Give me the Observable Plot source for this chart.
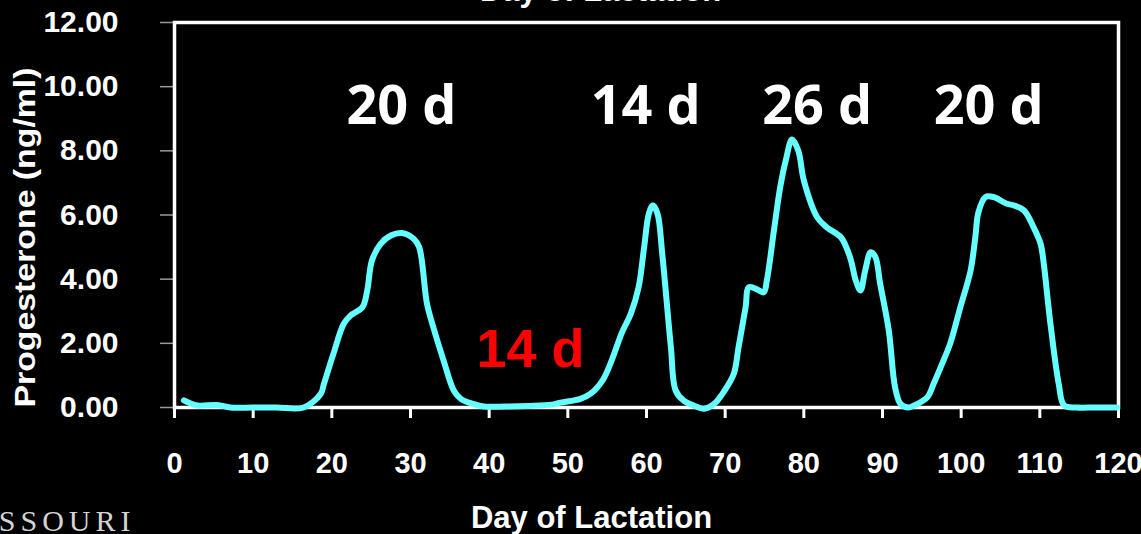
<!DOCTYPE html>
<html>
<head>
<meta charset="utf-8">
<script src="https://cdn.jsdelivr.net/npm/d3@7"></script>
<script src="https://cdn.jsdelivr.net/npm/@observablehq/plot@0.6"></script>
<style>
  html, body { margin: 0; padding: 0; background: #000; }
  #chart svg { display: block; background: #000; }
</style>
</head>
<body>
<div id="chart"></div>
<script>
// ---- data ----
const days = [1.2, 2.9, 5.4, 7.1, 10, 13, 16.4, 18.6, 19.0, 20.2, 21.5, 22.4, 23.9, 24.5, 25.1, 26.2, 27.5, 28.9, 30.4, 31.1,
  32.1, 32.9, 34.2, 35.5, 36.4, 38.0, 39.3, 42, 45, 48, 49.1, 51.6, 52.9, 54.4, 55.4, 56.9, 58.0, 59.0, 59.7, 60.3,
  60.8, 61.4, 62.0, 63.1, 63.7, 64.7, 66.0, 67.3, 68.6, 69.8, 71.1, 71.7, 72.6, 73.0, 73.9, 74.9, 75.3, 76.2, 77.0, 77.7,
  78.5, 79.3, 80.0, 81.7, 82.9, 84.7, 85.3, 86.0, 86.6, 87.2, 87.8, 88.5, 89.1, 89.7, 90.8, 91.6, 92.3, 93.3, 94.0, 95.7,
  96.5, 97.4, 98.6, 99.9, 101.2, 101.8, 102.2, 103.1, 104.1, 105.8, 106.7, 108.0, 109.2, 110.1, 110.5, 111.3, 112.4, 113.1, 114.7, 117, 119.8];
const progesterone = [0.22, 0.06, 0.08, 0.0, 0.0, 0.0, 0.0, 0.43, 0.74, 1.67, 2.6, 2.87, 3.13, 3.65, 4.58, 5.1, 5.36, 5.44, 5.26, 5.0,
  3.23, 2.5, 1.47, 0.53, 0.27, 0.11, 0.03, 0.03, 0.05, 0.09, 0.15, 0.27, 0.43, 0.84, 1.36, 2.35, 2.92, 3.75, 5.0, 6.04,
  6.3, 6.04, 4.79, 1.88, 0.53, 0.22, 0.06, -0.04, 0.11, 0.48, 1.05, 1.88, 3.13, 3.75, 3.70, 3.59, 3.96, 5.52, 6.87, 7.7,
  8.35, 8.0, 7.08, 5.93, 5.62, 5.31, 5.05, 4.58, 3.96, 3.65, 4.27, 4.84, 4.69, 3.86, 2.40, 0.63, 0.11, 0.0, 0.06, 0.32,
  0.74, 1.26, 1.99, 3.13, 4.27, 5.31, 6.09, 6.56, 6.56, 6.35, 6.30, 6.14, 5.62, 5.10, 4.48, 2.71, 0.74, 0.06, 0.0, 0.0, 0.0];

const xTicks = [0, 10, 20, 30, 40, 50, 60, 70, 80, 90, 100, 110, 120];
const yTicks = [0, 2, 4, 6, 8, 10, 12];

const cycleLabels = ["20 d", "14 d", "26 d", "20 d"];
const cycleLabelX = [28.85, 59.9, 81.7, 103.5];
const cycleLabelY = [8.85, 8.85, 8.85, 8.85];

const gapLabel = ["14 d"];
const gapLabelX = [45.25];
const gapLabelY = [1.25];

const xLabel = "Day of Lactation";
const yLabel = "Progesterone (ng/ml)";
const logoText = "MISSOURI";

// ---- tables ----
const series = days.map((d, i) => ({day: d, value: progesterone[i]}));
const cycles = cycleLabels.map((t, i) => ({text: t, x: cycleLabelX[i], y: cycleLabelY[i]}));
const gaps = gapLabel.map((t, i) => ({text: t, x: gapLabelX[i], y: gapLabelY[i]}));

const SANS = "'Liberation Sans', Arial, sans-serif";

const chart = Plot.plot({
  width: 1141,
  height: 534,
  marginLeft: 174,
  marginRight: 23,
  marginTop: 22,
  marginBottom: 127,
  style: {background: "#000", color: "white", fontFamily: SANS, overflow: "visible"},
  x: {domain: [0, 120]},
  y: {domain: [0, 12]},
  marks: [
    Plot.axisY({
      ticks: yTicks, tickFormat: d => d.toFixed(2), tickSize: 14, tickPadding: 42,
      stroke: "#9a9a9a", strokeWidth: 1.5, fill: "white",
      fontSize: 30, fontWeight: "bold", fontFamily: SANS, label: null
    }),
    Plot.axisX({
      ticks: xTicks, tickSize: 11, tickPadding: 34,
      stroke: "white", strokeWidth: 3, fill: "white",
      fontSize: 29, fontWeight: "bold", fontFamily: SANS, label: null
    }),
    Plot.frame({stroke: "white", strokeWidth: 3.5}),
    Plot.line(series, {x: "day", y: "value", stroke: "#6ff", strokeWidth: 6, curve: "catmull-rom"}),
    Plot.text(cycles, {x: "x", y: "y", text: "text", fill: "white", fontSize: 54,
      fontFamily: "'Open Sans', sans-serif", fontWeight: 700, lineAnchor: "bottom"}),
    Plot.text(gaps, {x: "x", y: "y", text: "text", fill: "#ff0000", fontSize: 54,
      fontFamily: SANS, fontWeight: "bold", lineAnchor: "bottom"}),
    Plot.text([xLabel], {frameAnchor: "bottom", dx: -55, dy: 120, lineAnchor: "bottom",
      fill: "white", fontSize: 31, fontWeight: "bold", fontFamily: SANS, textAnchor: "middle"}),
    Plot.text([xLabel], {frameAnchor: "top", dx: -46, dy: -21.5, lineAnchor: "bottom",
      fill: "white", fontSize: 31, fontWeight: "bold", fontFamily: SANS, textAnchor: "middle"}),
    Plot.text([yLabel], {frameAnchor: "left", dx: -149.5, dy: 22.5, rotate: -90, textAnchor: "middle",
      fill: "white", fontSize: 30, fontWeight: "bold", fontFamily: SANS, className: "ylab"}),
    Plot.text([logoText], {frameAnchor: "bottom-left", dx: -39, dy: 123, lineAnchor: "bottom", textAnchor: "end",
      fill: "#d4d4d4", fontSize: 30, fontFamily: "'Liberation Serif', 'DejaVu Serif', serif", className: "logo"})
  ]
});

document.getElementById("chart").appendChild(chart);

// stretch y label to match reference width
d3.select(chart).selectAll("g.ylab text").attr("textLength", 340).attr("lengthAdjust", "spacingAndGlyphs");
d3.select(chart).selectAll("g.logo text").style("letter-spacing", "5px");
</script>
</body>
</html>
